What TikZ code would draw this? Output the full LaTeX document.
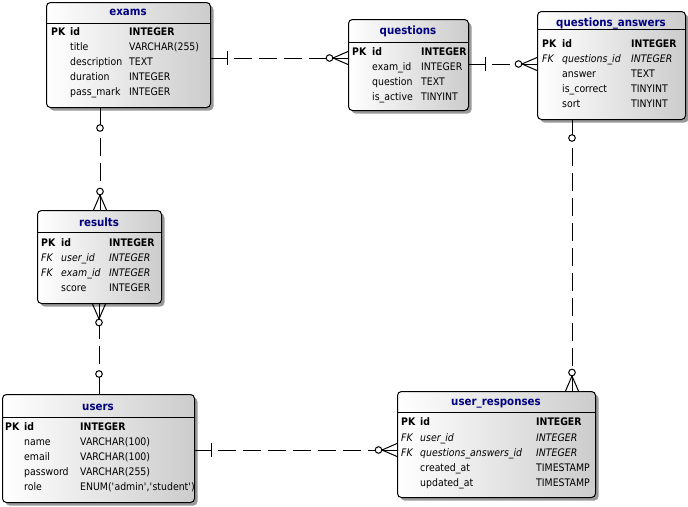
\documentclass[tikz,border=0pt]{standalone}
\usepackage{fontspec}
\setmainfont{DejaVu Sans}[FakeStretch=0.9]
\usetikzlibrary{calc,shadows}
\definecolor{navy}{RGB}{0,0,128}
\newcommand\erRowFont{\fontsize{10.4pt}{13pt}\selectfont}
\newcommand\erQ{\textquotesingle}
\tikzset{
  tbl/.style={draw, line width=1pt, rounded corners=4pt, anchor=north west, inner sep=0pt,
    left color=white, right color=black!20,
    drop shadow={shadow xshift=3pt, shadow yshift=-3pt, opacity=1, fill=black!40}},
  hdr/.style={line width=1pt},
  ttl/.style={anchor=base, inner sep=0pt, text=navy, font=\fontsize{11.4pt}{14pt}\selectfont\bfseries},
  cell/.style={anchor=west, inner sep=0pt, text height=7.6pt, text depth=0pt, font=\erRowFont},
  pkf/.style={font=\erRowFont\bfseries},
  fkf/.style={font=\erRowFont\itshape},
  rel/.style={line width=1pt},
  reldash/.style={line width=1pt, dash pattern=on 18pt off 7pt, dash phase=18pt}
}
\newcommand\erPK[4]{%
  \node[cell,pkf] (#1k) at (\xk,#2) {PK};
  \node[cell,pkf] (#1n) at (\xn,#2) {#3};
  \node[cell,pkf] (#1t) at (\xt,#2) {#4};}
\newcommand\erFK[4]{%
  \node[cell,fkf] (#1k) at (\xk,#2) {FK};
  \node[cell,fkf] (#1n) at (\xn,#2) {#3};
  \node[cell,fkf] (#1t) at (\xt,#2) {#4};}
\newcommand\erRow[4]{%
  \node[cell] (#1n) at (\xn,#2) {#3};
  \node[cell] (#1t) at (\xt,#2) {#4};}
\newcommand\erBar[3]{%
  \coordinate (#3) at ($(#1)!16pt!(#2)$);
  \draw[rel] (#1) -- (#3);
  \draw[rel] ($(#3)!7pt!90:(#2)$) -- ($(#3)!7pt!-90:(#2)$);}
\newcommand\erCirc[4]{%
  \coordinate (#3c) at ($(#1)!#4!(#2)$);
  \coordinate (#3) at ($(#1)!#4+3.3pt!(#2)$);
  \draw[rel] (#1) -- ($(#1)!#4-3.3pt!(#2)$);
  \draw[rel,fill=white] (#3c) circle[radius=3.3pt];}
\newcommand\erCrow[3]{%
  \coordinate (#3f) at ($(#1)!15pt!(#2)$);
  \draw[rel] (#3f) -- (#1);
  \draw[rel] (#3f) -- ($(#1)!6.5pt!90:(#2)$);
  \draw[rel] (#3f) -- ($(#1)!6.5pt!-90:(#2)$);
  \coordinate (#3c) at ($(#1)!18.5pt!(#2)$);
  \coordinate (#3) at ($(#1)!21.8pt!(#2)$);
  \draw[rel,fill=white] (#3c) circle[radius=3.3pt];}
\begin{document}
\begin{tikzpicture}[x=1pt,y=-1pt]
\useasboundingbox (0,0) rectangle (688,506);

% ---------- exams ----------
\node[tbl, minimum width=164pt, minimum height=105pt] (exams) at (46,2) {};
\draw[hdr] (exams.west |- 0,23) -- (exams.east |- 0,23);
\node[ttl] (examsT) at (128,16) {exams};
\def\xk{51}\def\xn{70}\def\xt{129}
\erPK{ex1}{32}{id}{INTEGER}
\erRow{ex2}{47}{title}{VARCHAR(255)}
\erRow{ex3}{62}{description}{TEXT}
\erRow{ex4}{77}{duration}{INTEGER}
\erRow{ex5}{92}{pass\_mark}{INTEGER}

% ---------- questions ----------
\node[tbl, minimum width=120pt, minimum height=91pt] (questions) at (348,19) {};
\draw[hdr] (questions.west |- 0,42) -- (questions.east |- 0,42);
\node[ttl] (questionsT) at (408,34) {questions};
\def\xk{352}\def\xn{372}\def\xt{421}
\erPK{q1}{52}{id}{INTEGER}
\erRow{q2}{67}{exam\_id}{INTEGER}
\erRow{q3}{82}{question}{TEXT}
\erRow{q4}{97}{is\_active}{TINYINT}

% ---------- questions_answers ----------
\node[tbl, minimum width=148pt, minimum height=108pt] (qa) at (537,11) {};
\draw[hdr] (qa.west |- 0,29) -- (qa.east |- 0,29);
\node[ttl] (qaT) at (611,26) {questions\_answers};
\def\xk{542}\def\xn{562}\def\xt{631}
\erPK{qa1}{44}{id}{INTEGER}
\erFK{qa2}{59}{questions\_id}{INTEGER}
\erRow{qa3}{74}{answer}{TEXT}
\erRow{qa4}{89}{is\_correct}{TINYINT}
\erRow{qa5}{104}{sort}{TINYINT}

% ---------- results ----------
\node[tbl, minimum width=124pt, minimum height=93pt] (results) at (37,210) {};
\draw[hdr] (results.west |- 0,232) -- (results.east |- 0,232);
\node[ttl] (resultsT) at (99,226) {results};
\def\xk{41}\def\xn{61}\def\xt{109}
\erPK{r1}{243}{id}{INTEGER}
\erFK{r2}{258}{user\_id}{INTEGER}
\erFK{r3}{273}{exam\_id}{INTEGER}
\erRow{r4}{288}{score}{INTEGER}

% ---------- users ----------
\node[tbl, minimum width=192pt, minimum height=108pt] (users) at (2,394) {};
\draw[hdr] (users.west |- 0,417) -- (users.east |- 0,417);
\node[ttl] (usersT) at (98,410) {users};
\def\xk{5}\def\xn{24}\def\xt{80}
\erPK{u1}{427}{id}{INTEGER}
\erRow{u2}{442}{name}{VARCHAR(100)}
\erRow{u3}{457}{email}{VARCHAR(100)}
\erRow{u4}{472}{password}{VARCHAR(255)}
\erRow{u5}{487}{role}{ENUM(\erQ admin\erQ,\erQ student\erQ)}

% ---------- user_responses ----------
\node[tbl, minimum width=198pt, minimum height=106pt] (ur) at (397,391) {};
\draw[hdr] (ur.west |- 0,412) -- (ur.east |- 0,412);
\node[ttl] (urT) at (496,405) {user\_responses};
\def\xk{401}\def\xn{420}\def\xt{536}
\erPK{ur1}{422}{id}{INTEGER}
\erFK{ur2}{438}{user\_id}{INTEGER}
\erFK{ur3}{453}{questions\_answers\_id}{INTEGER}
\erRow{ur4}{468}{created\_at}{TIMESTAMP}
\erRow{ur5}{483}{updated\_at}{TIMESTAMP}

% ---------- relationships ----------
% exams -> questions
\coordinate (c1s) at (exams.east |- 0,58);
\coordinate (c1e) at (questions.west |- 0,58);
\erBar{c1s}{c1e}{c1a}
\erCrow{c1e}{c1s}{c1b}
\draw[reldash] (c1a) -- (c1b);
% questions -> questions_answers
\coordinate (c2s) at (questions.east |- 0,64);
\coordinate (c2e) at (qa.west |- 0,64);
\erBar{c2s}{c2e}{c2a}
\erCrow{c2e}{c2s}{c2b}
\draw[reldash] (c2a) -- (c2b);
% exams -> results
\coordinate (c3s) at (exams.south -| 100,0);
\coordinate (c3e) at (results.north -| 100,0);
\erCirc{c3s}{c3e}{c3a}{20pt}
\erCrow{c3e}{c3s}{c3b}
\draw[reldash] (c3a) -- (c3b);
% users -> results
\coordinate (c4s) at (users.north -| 99,0);
\coordinate (c4e) at (results.south -| 99,0);
\erCirc{c4s}{c4e}{c4a}{20pt}
\erCrow{c4e}{c4s}{c4b}
\draw[reldash] (c4a) -- (c4b);
% questions_answers -> user_responses
\coordinate (c5s) at (qa.south -| 572,0);
\coordinate (c5e) at (ur.north -| 572,0);
\erCirc{c5s}{c5e}{c5a}{18pt}
\erCrow{c5e}{c5s}{c5b}
\draw[reldash] (c5a) -- (c5b);
% users -> user_responses
\coordinate (c6s) at (users.east |- 0,450);
\coordinate (c6e) at (ur.west |- 0,450);
\erBar{c6s}{c6e}{c6a}
\erCrow{c6e}{c6s}{c6b}
\draw[reldash] (c6a) -- (c6b);
\end{tikzpicture}
\end{document}
